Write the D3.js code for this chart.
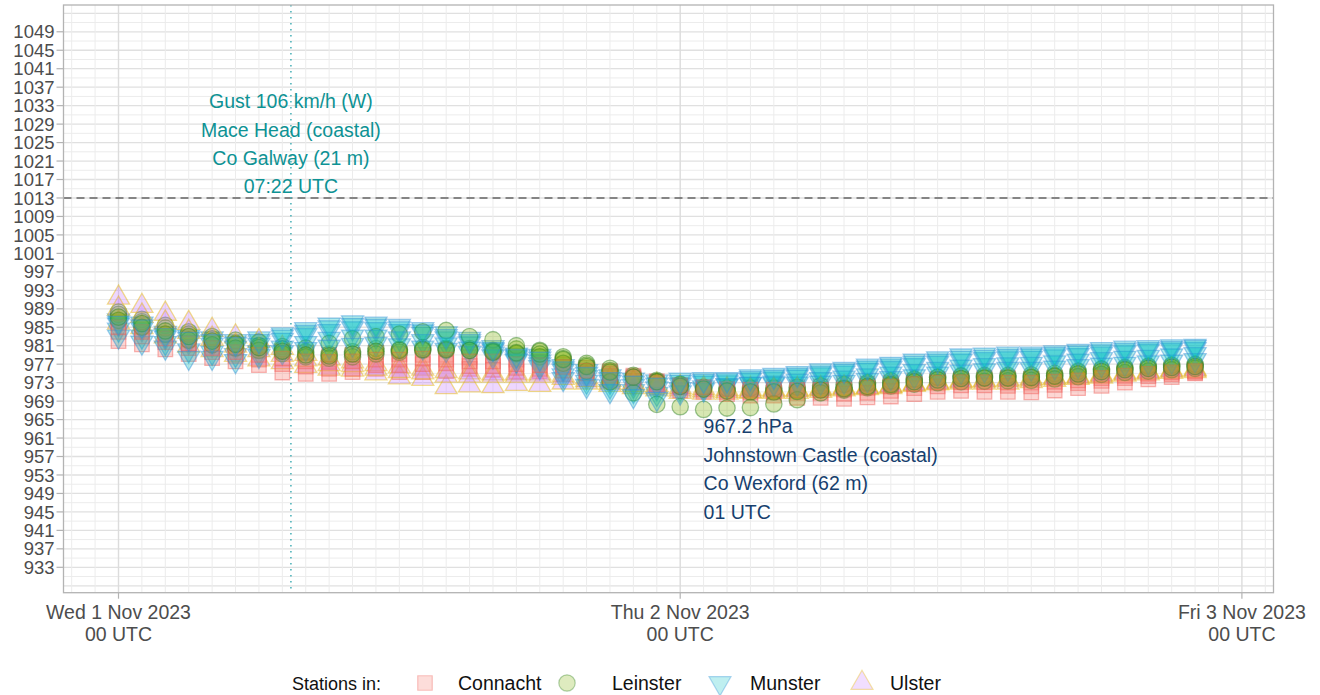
<!DOCTYPE html>
<html>
<head>
<meta charset="utf-8">
<script src="https://cdn.jsdelivr.net/npm/d3@7"></script>
<style>
  body { margin: 0; background: #fff; }
  svg { font-family: "Liberation Sans", Arial, sans-serif; }
</style>
</head>
<body>
<div id="chart"></div>
<script>
// hourly MSL pressure (hPa) from 2023-11-01 00 UTC, one array per station

var startTime = new Date(Date.UTC(2023, 10, 1, 0));
var hours = d3.range(0, 47);

var connacht = [
  [986, 985, 983.5, 982.5, 981.5, 980.5, 980, 979.8, 979.5, 979, 979, 979.5,
   979.2, 979, 979, 978.5, 978.8, 978, 977.5, 977, 976.2, 975.5, 974.5, 973.3,
   972.4, 972, 972, 972, 972, 972, 972.2, 972.8, 972.8, 973, 973.5, 973.8,
   973.8, 974, 974, 973.8, 974, 974.3, 974.6, 975, 975.2, 975.4, 975.6],
  [982, 981.3, 980.2, 979.2, 978.3, 977.6, 976.8, 975.2, 974.9, 974.9, 975.3, 976,
   975.3, 975.3, 975.5, 976, 975.8, 975.4, 975.5, 974.9, 973.8, 973.5, 973.4, 972,
   971.3, 971, 970.5, 970.2, 970.2, 969.7, 969.7, 969.5, 969.8, 970, 970.5, 971,
   971.2, 971, 971, 970.9, 971.3, 971.8, 972.3, 973, 973.7, 974.2, 975],
  [984, 983, 981.8, 980.5, 979.6, 978.8, 978, 977, 976.5, 976, 976, 976.8,
   976.8, 977, 977.2, 976.6, 976.6, 976.2, 976, 975.6, 975, 974.5, 973.9, 972.6,
   972, 971.5, 971, 970.9, 970.9, 970.8, 970.8, 970.6, 970.8, 971.2, 971.8, 972.2,
   972.4, 972.4, 972.3, 972.2, 972.5, 972.9, 973.4, 974, 974.4, 974.8, 975.2],
  [985, 984, 982.6, 981.5, 980.5, 979.6, 979, 978.2, 977.6, 977.5, 977.6, 978,
   978, 978.2, 978, 977.6, 977.6, 977, 976.8, 976.4, 975.6, 975, 974.2, 973,
   972.4, 972, 971.6, 971.5, 971.5, 971.4, 971.4, 971.5, 971.9, 972.2, 972.7, 973,
   973.1, 973.1, 973, 973, 973.2, 973.5, 974, 974.5, 974.9, 975.2, 975.5]
];

var leinster = [
  [988.3, 986.7, 985.4, 984, 983, 982.2, 981.8, 980.8, 979.7, 979.2, 979.7, 980.4,
   980.2, 980.6, 980.5, 980.4, 980, 980.3, 980, 978.6, 977.2, 976.1, 974.6, 973.5,
   972.7, 971.8, 971.4, 971.3, 971.3, 971.4, 971.8, 971.9, 972.7, 972.9, 973.6, 974.1,
   974.3, 974.3, 974.3, 974.3, 974.6, 975.3, 975.8, 976.1, 976.4, 976.6, 976.8],
  [987.8, 986.2, 984.8, 983.5, 982.5, 981.5, 981, 980.3, 980.5, 981.5, 982.5, 983,
   983.5, 984, 984.3, 983, 982.3, 981, 979.8, 978.2, 976.8, 975.6, 974.2, 973.2,
   972.5, 972, 971.8, 971.8, 971.8, 972, 972.3, 972.6, 973, 973.4, 973.8, 974.2,
   974.5, 974.6, 974.6, 974.7, 975, 975.5, 976, 976.3, 976.6, 976.8, 977],
  [986.5, 985, 983.5, 982.2, 981.2, 980.5, 980, 979.3, 978.6, 978.3, 978.6, 979.2,
   979.6, 980, 980, 980, 979.8, 979.3, 978.6, 977.2, 975.5, 973.2, 970.8, 968.3,
   967.8, 967.2, 967.5, 967.6, 968.4, 969.3, 970.8, 971.4, 971.9, 972.3, 972.7, 973,
   973.2, 973.3, 973.4, 973.5, 973.8, 974.3, 974.8, 975.2, 975.5, 975.8, 976.1],
  [987.2, 985.8, 984.2, 983, 982, 981.3, 980.6, 979.8, 979, 978.8, 979.2, 979.8,
   980, 980.2, 980.2, 980, 979.6, 979.5, 979.2, 978, 976.5, 975.3, 974.2, 973.2,
   972.2, 971.6, 971.2, 971, 971, 971.1, 971.4, 971.7, 972.2, 972.6, 973.2, 973.6,
   973.9, 974, 974, 974.1, 974.4, 974.9, 975.4, 975.8, 976.1, 976.3, 976.5]
];

var munster = [
  [986.5, 985.8, 983.8, 983, 982.6, 982, 982.6, 983.5, 984.6, 985.6, 986.1, 985.8,
   985.3, 984.6, 983.7, 982.5, 980.7, 979.1, 978.8, 976.6, 975.5, 974.4, 973.7, 973.3,
   973.7, 973.8, 973.8, 974.4, 974.7, 975.1, 975.7, 976, 976.7, 977.1, 977.8, 978.3,
   978.9, 979.1, 979.3, 979.3, 979.6, 979.9, 980.3, 980.6, 980.7, 980.9, 981],
  [985.6, 984.6, 982.8, 981.8, 981.2, 980.6, 981.2, 982.3, 983.3, 984.2, 984.8, 984.6,
   984.2, 983.6, 982.6, 981.5, 980, 978.5, 977.6, 975.6, 974.2, 973.2, 972.3, 971.8,
   972.6, 973, 973.1, 973.6, 973.9, 974.3, 974.8, 975.2, 975.8, 976.2, 976.8, 977.3,
   977.8, 978.1, 978.3, 978.4, 978.7, 979, 979.3, 979.6, 979.9, 980.1, 980.3],
  [984.5, 983, 981.6, 980, 979.5, 979, 979.6, 980.6, 981.6, 982.5, 983, 983,
   982.6, 982, 981.3, 980.4, 979.3, 978, 977, 974.6, 973.2, 972.2, 971.2, 970.6,
   971.6, 972, 972.5, 972.8, 973, 973.4, 973.8, 974.1, 974.6, 975, 975.5, 976,
   976.5, 976.8, 977, 977.1, 977.4, 977.8, 978.1, 978.4, 978.6, 978.9, 979.2],
  [983, 981.7, 980.6, 978.4, 978.4, 977.7, 978.8, 979.6, 980.3, 980.8, 981.2, 981.4,
   981.1, 980.6, 980.1, 979.4, 978.7, 977.7, 976.4, 973.8, 972.3, 971.2, 970.1, 969.5,
   970.9, 971.5, 972.4, 972.7, 972.7, 972.8, 973, 973.2, 973.6, 974, 974.4, 975,
   975.4, 975.7, 976, 976, 976.3, 976.6, 976.9, 977.1, 977.4, 977.6, 977.9],
  [986, 985.2, 983.3, 982.5, 982, 981.4, 982, 983, 984, 985, 985.5, 985.3,
   984.8, 984.1, 983.1, 982, 980.3, 978.8, 978.2, 976.1, 974.9, 973.8, 973, 972.6,
   973.2, 973.4, 973.5, 974, 974.3, 974.7, 975.2, 975.6, 976.3, 976.7, 977.3, 977.8,
   978.4, 978.6, 978.8, 978.9, 979.2, 979.5, 979.8, 980.1, 980.3, 980.5, 980.7]
];

var ulster = [
  [991.4, 989.6, 987.9, 985.9, 984.4, 983, 982, 980.5, 979.2, 978.2, 977.6, 977,
   976.5, 976, 975.5, 975.2, 975, 975, 975, 974.6, 974.1, 973.6, 973, 972.5,
   972, 971.8, 971.6, 971.6, 971.6, 971.6, 971.8, 972, 972.1, 972.4, 972.8, 973.2,
   973.5, 973.6, 973.8, 974, 974.2, 974.5, 974.8, 975.2, 975.5, 975.8, 976],
  [986, 985, 983, 981, 980, 979, 978, 977.4, 976.6, 976, 975.8, 975,
   974.1, 973.8, 972, 972.4, 972.2, 972.7, 972.5, 973, 973, 972.5, 972, 971.5,
   971, 970.8, 970.8, 971, 971, 971, 971.2, 971.5, 971.8, 972, 972.5, 972.8,
   973, 973, 973, 973.3, 973.6, 974, 974.3, 974.7, 975, 975.3, 975.5],
  [989, 987.5, 986, 984, 982.5, 981, 980, 979, 978, 977, 976.8, 976,
   975.5, 975.2, 974.5, 974.5, 974.5, 974.5, 974.5, 974, 973.5, 973, 972.5, 972,
   971.5, 971.3, 971.2, 971.2, 971.3, 971.4, 971.6, 971.8, 972, 972.3, 972.7, 973,
   973.3, 973.4, 973.5, 973.7, 974, 974.3, 974.6, 975, 975.3, 975.6, 975.8]
];

var provinces = ["Connacht", "Leinster", "Munster", "Ulster"];
var fills = ["#F8766D", "#7CAE00", "#00BFC4", "#C77CFF"];
var strokes = ["#F0605A", "#2A7F1E", "#2E8FD6", "#E7B800"];
var yTicks = d3.range(933, 1050, 4);
var dayTicks = [0, 24, 48];

var gust = {hour: 7 + 22 / 60, lines: ["Gust 106 km/h (W)", "Mace Head (coastal)", "Co Galway (21 m)", "07:22 UTC"]};
var minP = {hour: 25, value: 967.2, lines: ["967.2 hPa", "Johnstown Castle (coastal)", "Co Wexford (62 m)", "01 UTC"]};
var msl = 1013;

// ---- layout
var W = 1320, H = 695;
var panel = {left: 63.5, right: 1273.5, top: 5, bottom: 592.7};

function hr(h) { return new Date(startTime.getTime() + h * 3600e3); }

var x = d3.scaleUtc().domain([hr(-2.35), hr(49.35)]).range([panel.left, panel.right]);
var y = d3.scaleLinear().domain([927.5, 1054.8]).range([panel.bottom, panel.top]);

var svg = d3.select("#chart").append("svg").attr("width", W).attr("height", H);

// grid
var grid = svg.append("g");
grid.selectAll(".hg").data(d3.range(929, 1054, 2)).enter().append("line")
  .attr("x1", panel.left).attr("x2", panel.right)
  .attr("y1", function (d) { return y(d); }).attr("y2", function (d) { return y(d); })
  .attr("stroke", function (d) { return (d - 933) % 4 == 0 ? "#E0E0E0" : "#ECECEC"; })
  .attr("stroke-width", function (d) { return (d - 933) % 4 == 0 ? 1.3 : 1; });
grid.selectAll(".vg").data(d3.range(-2, 50)).enter().append("line")
  .attr("y1", panel.top).attr("y2", panel.bottom)
  .attr("x1", function (d) { return x(hr(d)); }).attr("x2", function (d) { return x(hr(d)); })
  .attr("stroke", function (d) { return d % 24 == 0 ? "#DCDCDC" : "#ECECEC"; })
  .attr("stroke-width", function (d) { return d % 24 == 0 ? 1.4 : 1; });

// reference lines
svg.append("line")
  .attr("x1", panel.left).attr("x2", panel.right)
  .attr("y1", y(msl)).attr("y2", y(msl))
  .attr("stroke", "#222").attr("stroke-width", 1.1).attr("stroke-dasharray", "8,5");
svg.append("line")
  .attr("x1", x(hr(gust.hour))).attr("x2", x(hr(gust.hour)))
  .attr("y1", panel.top).attr("y2", panel.bottom)
  .attr("stroke", "#4FB3BA").attr("stroke-width", 1.6).attr("stroke-dasharray", "1.6,4.4");

// shapes
var R = 8.2;
function shapePath(k) {
  if (k == 0) { var s = R * 0.886; return "M" + (-s) + "," + (-s) + "H" + s + "V" + s + "H" + (-s) + "Z"; }
  if (k == 1) { return "M" + (-R) + ",0A" + R + "," + R + " 0 1,0 " + R + ",0A" + R + "," + R + " 0 1,0 " + (-R) + ",0Z"; }
  var r = R * 1.555, xc = R * 1.347, yc = R * 0.778;
  if (k == 2) return "M0," + r + "L" + xc + "," + (-yc) + "L" + (-xc) + "," + (-yc) + "Z";
  return "M0," + (-r) + "L" + xc + "," + yc + "L" + (-xc) + "," + yc + "Z";
}

var stations = [];
[connacht, leinster, munster, ulster].forEach(function (arr, k) {
  arr.forEach(function (vals, j) { stations.push({prov: k, idx: j, vals: vals}); });
});
// interleave stations the way they were plotted
stations.sort(function (a, b) { return a.idx - b.idx || ((a.prov + 2) % 4) - ((b.prov + 2) % 4); });

var points = [];
stations.forEach(function (s) {
  s.vals.forEach(function (v, i) { points.push({prov: s.prov, h: hours[i], v: v}); });
});

svg.append("g").selectAll("path").data(points).enter().append("path")
  .attr("d", function (d) { return shapePath(d.prov); })
  .attr("transform", function (d) { return "translate(" + x(hr(d.h)) + "," + y(d.v) + ")"; })
  .attr("fill", function (d) { return fills[d.prov]; })
  .attr("fill-opacity", 0.3)
  .attr("stroke", function (d) { return strokes[d.prov]; })
  .attr("stroke-opacity", 0.45)
  .attr("stroke-width", 1.3);

// panel border
svg.append("rect")
  .attr("x", panel.left).attr("y", panel.top)
  .attr("width", panel.right - panel.left).attr("height", panel.bottom - panel.top)
  .attr("fill", "none").attr("stroke", "#B3B3B3").attr("stroke-width", 1.3);

// y axis
var yAxis = svg.append("g");
yAxis.selectAll("line").data(yTicks).enter().append("line")
  .attr("x1", panel.left - 7).attr("x2", panel.left)
  .attr("y1", function (d) { return y(d); }).attr("y2", function (d) { return y(d); })
  .attr("stroke", "#B3B3B3").attr("stroke-width", 1.2);
yAxis.selectAll("text").data(yTicks).enter().append("text")
  .attr("x", panel.left - 9).attr("y", function (d) { return y(d) + 6.6; })
  .attr("text-anchor", "end").attr("fill", "#4D4D4D").style("font-size", "18.5px")
  .text(function (d) { return d; });

// x axis
var xAxis = svg.append("g");
var fmtDay = d3.utcFormat("%a %-d %b %Y");
xAxis.selectAll("line").data(dayTicks).enter().append("line")
  .attr("x1", function (d) { return x(hr(d)); }).attr("x2", function (d) { return x(hr(d)); })
  .attr("y1", panel.bottom).attr("y2", panel.bottom + 6)
  .attr("stroke", "#B3B3B3").attr("stroke-width", 1.2);
var xl = xAxis.selectAll("text").data(dayTicks).enter().append("text")
  .attr("text-anchor", "middle").attr("fill", "#4D4D4D").style("font-size", "19.5px");
xl.append("tspan").attr("x", function (d) { return x(hr(d)); }).attr("y", 618.5)
  .text(function (d) { return fmtDay(hr(d)); });
xl.append("tspan").attr("x", function (d) { return x(hr(d)); }).attr("y", 641)
  .text(function (d) { return d3.utcFormat("%H")(hr(d)) + " UTC"; });

// annotations
svg.append("g").selectAll("text").data(gust.lines).enter().append("text")
  .attr("x", x(hr(gust.hour))).attr("y", function (d, i) { return 108.3 + i * 28.35; })
  .attr("text-anchor", "middle").attr("fill", "#0E9294").style("font-size", "19.5px")
  .text(function (d) { return d; });
svg.append("g").selectAll("text").data(minP.lines).enter().append("text")
  .attr("x", x(hr(minP.hour))).attr("y", function (d, i) { return y(minP.value) + 23.5 + i * 28.6; })
  .attr("text-anchor", "start").attr("fill", "#173F6E").style("font-size", "19.5px")
  .text(function (d) { return d; });

// legend
var legend = svg.append("g").attr("transform", "translate(0,683)");
legend.append("text").attr("x", 292).attr("y", 7).attr("fill", "#111")
  .style("font-size", "18px").text("Stations in:");
var keyX = [425, 567, 720, 862], labX = [458, 612, 750, 890];
provinces.forEach(function (p, k) {
  legend.append("path").attr("d", shapePath(k))
    .attr("transform", "translate(" + keyX[k] + ",0)")
    .attr("fill", fills[k]).attr("fill-opacity", 0.25)
    .attr("stroke", strokes[k]).attr("stroke-opacity", 0.35).attr("stroke-width", 1.2);
  legend.append("text").attr("x", labX[k]).attr("y", 7).attr("fill", "#111")
    .style("font-size", "19.5px").text(p);
});
</script>
</body>
</html>
